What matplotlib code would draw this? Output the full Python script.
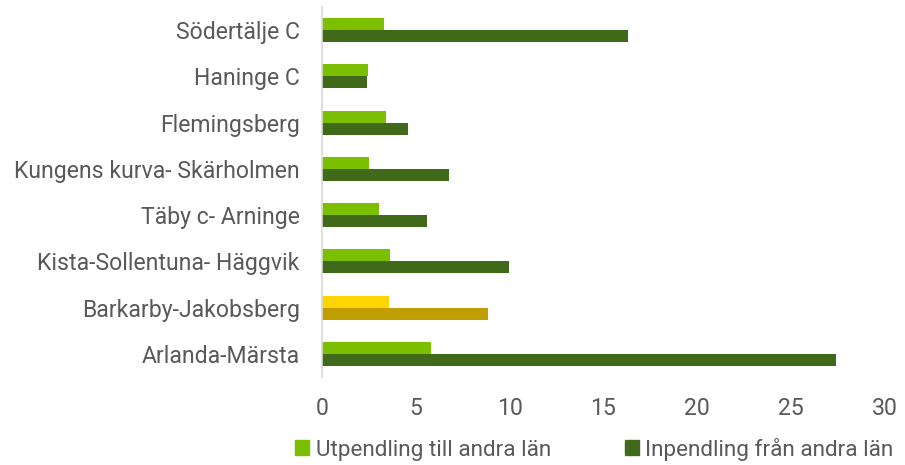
import numpy as np
import matplotlib.pyplot as plt
from matplotlib.patches import Patch

plt.rcParams['font.family'] = ['Roboto', 'DejaVu Sans']

omraden = ["Södertälje C", "Haninge C", "Flemingsberg", "Kungens kurva- Skärholmen",
           "Täby c- Arninge", "Kista-Sollentuna- Häggvik", "Barkarby-Jakobsberg",
           "Arlanda-Märsta"]
utpendling = [3.3, 2.45, 3.4, 2.5, 3.05, 3.6, 3.55, 5.8]
inpendling = [16.3, 2.4, 4.6, 6.75, 5.6, 9.95, 8.85, 27.4]
serier = ["Utpendling till andra län", "Inpendling från andra län"]

ljus = "#7BBF00"
mork = "#41691A"
ljus_gul = "#FFD500"
mork_gul = "#C09E00"
markerad = "Barkarby-Jakobsberg"
textfarg = "#595959"
fs = 16.6

fig = plt.figure(figsize=(9.05, 4.65), dpi=100)
ax = fig.add_axes([0.3558, 0.189, 0.622, 0.796])

y = np.arange(len(omraden))[::-1]
h = 0.26
farg_ut = [ljus_gul if o == markerad else ljus for o in omraden]
farg_in = [mork_gul if o == markerad else mork for o in omraden]
ax.barh(y + h / 2, utpendling, height=h, color=farg_ut)
ax.barh(y - h / 2, inpendling, height=h, color=farg_in)

ax.set_xlim(0, 30)
ax.set_ylim(-0.5, len(omraden) - 0.5)
ax.set_xticks(range(0, 31, 5))
ax.set_yticks(y)
ax.set_yticklabels(omraden)
for s in ["top", "right", "bottom"]:
    ax.spines[s].set_visible(False)
ax.spines["left"].set_color("#D9D9D9")
ax.spines["left"].set_linewidth(1.2)
ax.tick_params(axis="both", length=0, labelsize=fs, colors=textfarg)
ax.tick_params(axis="x", pad=14)
ax.tick_params(axis="y", pad=16)

handles = [Patch(color=ljus), Patch(color=mork)]
fig.legend(handles, serier, loc="lower center", bbox_to_anchor=(0.657, -0.034),
           ncol=2, frameon=False, fontsize=16.2, handlelength=0.6, handleheight=0.6,
           handletextpad=0.3, columnspacing=3.3, labelcolor=textfarg)

fig.savefig("out.png", dpi=100)
